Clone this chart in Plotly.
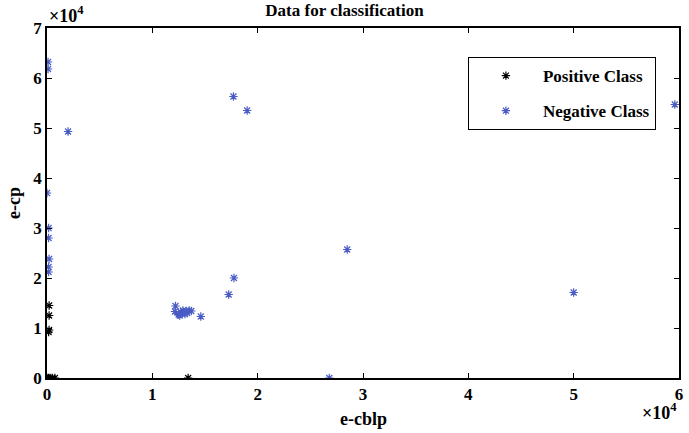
import plotly.graph_objects as go

# Positive class samples (e-cblp, e-cp)
pos_x = [0, 150, 300, 500, 750, 200, 200, 200, 150, 13400]
pos_y = [0, 0, 0, 0, 0, 14500, 12500, 9600, 9200, 0]

# Negative class samples (e-cblp, e-cp)
neg_x = [100, 100, 2000, 0, 150, 150, 200, 150, 150, 17700, 19000,
         28500, 50000, 59600, 26800, 17750, 17250,
         12200, 12150, 12500, 12700, 12800, 12900, 13000, 13100,
         13200, 13300, 13500, 13700, 12600, 14600]
neg_y = [63200, 61800, 49300, 37000, 30000, 28000, 23800, 22200, 21200,
         56300, 53500, 25700, 17100, 54700, 0, 20000, 16700,
         14400, 13300, 12700, 13200, 12900, 13500, 13100, 12800,
         13400, 13000, 13500, 13400, 12500, 12300]

x_ticks = [0, 10000, 20000, 30000, 40000, 50000, 60000]
x_tick_text = ["<b>0</b>", "<b>1</b>", "<b>2</b>", "<b>3</b>", "<b>4</b>", "<b>5</b>", "<b>6</b>"]
y_ticks = [0, 10000, 20000, 30000, 40000, 50000, 60000, 70000]
y_tick_text = ["<b>0</b>", "<b>1</b>", "<b>2</b>", "<b>3</b>", "<b>4</b>", "<b>5</b>", "<b>6</b>", "<b>7</b>"]

SERIF = "Liberation Serif"
BLUE = "#4a5cc4"

fig = go.Figure()
fig.add_trace(go.Scatter(
    x=pos_x, y=pos_y, mode="markers", name="<b>Positive Class</b>",
    legendgroup="p",
    marker=dict(symbol="asterisk-open", size=7, color="black",
                line=dict(color="black", width=1.2)),
))
fig.add_trace(go.Scatter(
    x=neg_x, y=neg_y, mode="markers", name="<b>Negative Class</b>",
    legendgroup="n",
    marker=dict(symbol="asterisk-open", size=7, color=BLUE,
                line=dict(color=BLUE, width=1.2)),
))

axis_common = dict(
    showgrid=False, zeroline=False, showline=True, linecolor="black",
    linewidth=1.5, mirror="ticks", ticks="inside", ticklen=5,
    tickcolor="black", tickwidth=1.2,
    tickfont=dict(family=SERIF, size=17, color="black"),
)

fig.update_layout(
    width=689, height=433,
    margin=dict(l=47, r=6, t=28, b=55),
    paper_bgcolor="white", plot_bgcolor="white",
    title=dict(text="<b>Data for classification</b>", x=0.5, xanchor="center",
               y=0.99, yanchor="top",
               font=dict(family=SERIF, size=17, color="black")),
    xaxis=dict(range=[0, 60000], tickvals=x_ticks, ticktext=x_tick_text,
               **axis_common),
    yaxis=dict(range=[0, 70000], tickvals=y_ticks, ticktext=y_tick_text,
               title=dict(text="<b>e-cp</b>", standoff=8,
                          font=dict(family=SERIF, size=18, color="black")),
               **axis_common),
    showlegend=True,
    legend=dict(x=0.666, y=0.917, xanchor="left", yanchor="top",
                bgcolor="white", bordercolor="black", borderwidth=1,
                tracegroupgap=10, itemwidth=64,
                font=dict(family=SERIF, size=17, color="black")),
    annotations=[
        dict(text="<b>e-cblp</b>", xref="paper", yref="paper", x=0.5, y=0.0,
             xanchor="center", yanchor="top", showarrow=False, yshift=-29,
             font=dict(family=SERIF, size=18, color="black")),
        dict(text="<b>×10<sup>4</sup></b>", xref="paper", yref="paper", x=0.0, y=1.0,
             xanchor="left", yanchor="bottom", showarrow=False, yshift=0,
             font=dict(family=SERIF, size=18, color="black")),
        dict(text="<b>×10<sup>4</sup></b>", xref="paper", yref="paper", x=1.0, y=0.0,
             xanchor="right", yanchor="top", showarrow=False, yshift=-20,
             font=dict(family=SERIF, size=18, color="black")),
    ],
)

fig.write_html("out.html")
